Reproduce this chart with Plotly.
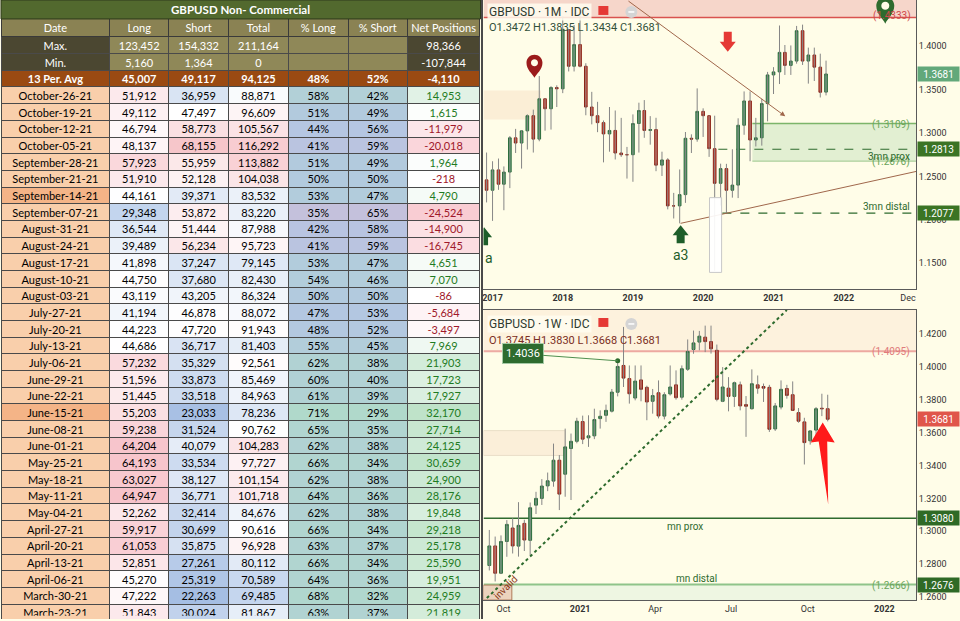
import pandas as pd
import plotly.graph_objects as go

# ---------------- COT table data ----------------
cot_dates = ["October-26-21", "October-19-21", "October-12-21", "October-05-21",
             "September-28-21", "September-21-21", "September-14-21", "September-07-21",
             "August-31-21", "August-24-21", "August-17-21", "August-10-21", "August-03-21",
             "July-27-21", "July-20-21", "July-13-21", "July-06-21",
             "June-29-21", "June-22-21", "June-15-21", "June-08-21", "June-01-21",
             "May-25-21", "May-18-21", "May-11-21", "May-04-21",
             "April-27-21", "April-20-21", "April-13-21", "April-06-21",
             "March-30-21", "March-23-21"]
cot_long = [51912, 49112, 46794, 48137, 57923, 51910, 44161, 29348, 36544, 39489, 41898,
            44750, 43119, 41194, 44223, 44686, 57232, 51596, 51445, 55203, 59238, 64204,
            64193, 63027, 64947, 52262, 59917, 61053, 52851, 45270, 47222, 51843]
cot_short = [36959, 47497, 58773, 68155, 55959, 52128, 39371, 53872, 51444, 56234, 37247,
             37680, 43205, 46878, 47720, 36717, 35329, 33873, 33518, 23033, 31524, 40079,
             33534, 38127, 36771, 32414, 30699, 35875, 27261, 25319, 22263, 30024]
cot_total = [88871, 96609, 105567, 116292, 113882, 104038, 83532, 83220, 87988, 95723, 79145,
             82430, 86324, 88072, 91943, 81403, 92561, 85469, 84963, 78236, 90762, 104283,
             97727, 101154, 101718, 84676, 90616, 96928, 80112, 70589, 69485, 81867]
cot_pct_long = [58, 51, 44, 41, 51, 50, 53, 35, 42, 41, 53, 54, 50, 47, 48, 55, 62, 60, 61,
                71, 65, 62, 66, 62, 64, 62, 66, 63, 66, 64, 68, 63]
cot_pct_short = [42, 49, 56, 59, 49, 50, 47, 65, 58, 59, 47, 46, 50, 53, 52, 45, 38, 40, 39,
                 29, 35, 38, 34, 38, 36, 38, 34, 37, 34, 36, 32, 37]
cot_net = [14953, 1615, -11979, -20018, 1964, -218, 4790, -24524, -14900, -16745, 4651, 7070,
           -86, -5684, -3497, 7969, 21903, 17723, 17927, 32170, 27714, 24125, 30659, 24900,
           28176, 19848, 29218, 25178, 25590, 19951, 24959, 21819]

stat_labels = ["Max.", "Min.", "13 Per. Avg"]
stat_long = [123452, 5160, 45007]
stat_short = [154332, 1364, 49117]
stat_total = [211164, 0, 94125]
stat_pct_long = [None, None, 48]
stat_pct_short = [None, None, 52]
stat_net = [98366, -107844, -4110]
headers = ["Date", "Long", "Short", "Total", "% Long", "% Short", "Net Positions"]
highlight_dates = ["September-14-21", "June-15-21"]

# ---------------- GBPUSD monthly (Dec 2016 - Oct 2021) ----------------
m_start = "2016-12-01"
m_open = [1.2460, 1.2340, 1.2575, 1.2410, 1.2550, 1.2945, 1.2885, 1.3025, 1.3200, 1.2930,
          1.3395, 1.3280, 1.3525, 1.3510, 1.4190, 1.3770, 1.4020, 1.3770, 1.3300, 1.3200,
          1.3120, 1.2990, 1.3030, 1.2770, 1.2750, 1.2750, 1.3110, 1.3260, 1.3030, 1.3040,
          1.2630, 1.2690, 1.2160, 1.2160, 1.2290, 1.2940, 1.2930, 1.3250, 1.3200, 1.2820,
          1.2420, 1.2590, 1.2340, 1.2400, 1.3090, 1.3370, 1.2920, 1.2945, 1.3340, 1.3670,
          1.3705, 1.3930, 1.3780, 1.3830, 1.4180, 1.3830, 1.3900, 1.3760, 1.3472]
m_high = [1.2775, 1.2675, 1.2706, 1.2615, 1.2965, 1.3048, 1.3030, 1.3215, 1.3270, 1.3657,
          1.3400, 1.3540, 1.3550, 1.4345, 1.4200, 1.4245, 1.4376, 1.3805, 1.3475, 1.3360,
          1.3145, 1.3300, 1.3260, 1.3175, 1.2840, 1.3215, 1.3350, 1.3380, 1.3195, 1.3176,
          1.2785, 1.2710, 1.2310, 1.2580, 1.3012, 1.2985, 1.3515, 1.3285, 1.3200, 1.3200,
          1.2647, 1.2645, 1.2813, 1.3170, 1.3480, 1.3480, 1.3175, 1.3395, 1.3705, 1.3760,
          1.4240, 1.4015, 1.4010, 1.4235, 1.4250, 1.3985, 1.3985, 1.3915, 1.3835]
m_low = [1.2200, 1.1987, 1.2345, 1.2110, 1.2365, 1.2770, 1.2590, 1.2810, 1.2775, 1.2905,
         1.3027, 1.3040, 1.3300, 1.3460, 1.3710, 1.3710, 1.3758, 1.3205, 1.3100, 1.3010,
         1.2662, 1.2785, 1.2695, 1.2725, 1.2475, 1.2438, 1.2775, 1.2945, 1.2866, 1.2560,
         1.2505, 1.2120, 1.2015, 1.1959, 1.2195, 1.2770, 1.2900, 1.2955, 1.2725, 1.1410,
         1.2165, 1.2075, 1.2255, 1.2250, 1.2980, 1.2675, 1.2845, 1.2855, 1.3135, 1.3450,
         1.3565, 1.3670, 1.3670, 1.3800, 1.3785, 1.3570, 1.3600, 1.3410, 1.3434]
m_close = [1.2340, 1.2575, 1.2410, 1.2550, 1.2945, 1.2885, 1.3025, 1.3200, 1.2930, 1.3395,
           1.3280, 1.3525, 1.3510, 1.4190, 1.3770, 1.4020, 1.3770, 1.3300, 1.3200, 1.3120,
           1.2990, 1.3030, 1.2770, 1.2750, 1.2750, 1.3110, 1.3260, 1.3030, 1.3040, 1.2630,
           1.2690, 1.2160, 1.2160, 1.2290, 1.2940, 1.2930, 1.3250, 1.3200, 1.2820, 1.2420,
           1.2590, 1.2340, 1.2400, 1.3090, 1.3370, 1.2920, 1.2945, 1.3340, 1.3670, 1.3705,
           1.3930, 1.3780, 1.3830, 1.4180, 1.3830, 1.3900, 1.3760, 1.3470, 1.3681]

# ---------------- GBPUSD weekly (Sep 14 2020 - Oct 25 2021) ----------------
w_start = "2020-09-14"
w_open = [1.2792, 1.2911, 1.2745, 1.2938, 1.3020, 1.2910, 1.3048, 1.2945, 1.3159, 1.3200,
          1.3276, 1.3305, 1.3432, 1.3347, 1.3503, 1.3547, 1.3667, 1.3568, 1.3580, 1.3685,
          1.3705, 1.3730, 1.3845, 1.4008, 1.3928, 1.3810, 1.3920, 1.3875, 1.3790, 1.3842,
          1.3700, 1.3835, 1.3890, 1.3815, 1.3985, 1.4105, 1.4150, 1.4180, 1.4153, 1.4100,
          1.3790, 1.3870, 1.3820, 1.3890, 1.3770, 1.3745, 1.3890, 1.3880, 1.3875, 1.3622,
          1.3755, 1.3868, 1.3830, 1.3721, 1.3665, 1.3550, 1.3615, 1.3748, 1.3745]
w_high = [1.3008, 1.2968, 1.2975, 1.3068, 1.3080, 1.3177, 1.3070, 1.3175, 1.3240, 1.3317,
          1.3357, 1.3533, 1.3463, 1.3624, 1.3594, 1.3690, 1.3703, 1.3705, 1.3745, 1.3735,
          1.3770, 1.3865, 1.4036, 1.4242, 1.4008, 1.4008, 1.4008, 1.3885, 1.3865, 1.3917,
          1.3845, 1.4008, 1.3978, 1.4008, 1.4166, 1.4220, 1.4218, 1.4250, 1.4250, 1.4135,
          1.3998, 1.3937, 1.3910, 1.3910, 1.3822, 1.3984, 1.3947, 1.3898, 1.3890, 1.3780,
          1.3917, 1.3890, 1.3911, 1.3749, 1.3690, 1.3614, 1.3755, 1.3836, 1.3830]
w_low = [1.2762, 1.2695, 1.2740, 1.2845, 1.2865, 1.2846, 1.2880, 1.2855, 1.3105, 1.3160,
         1.3244, 1.3271, 1.3129, 1.3210, 1.3190, 1.3535, 1.3530, 1.3513, 1.3560, 1.3624,
         1.3665, 1.3722, 1.3820, 1.3877, 1.3776, 1.3796, 1.3790, 1.3675, 1.3715, 1.3686,
         1.3680, 1.3825, 1.3800, 1.3800, 1.3975, 1.4079, 1.4100, 1.4089, 1.4080, 1.3790,
         1.3785, 1.3729, 1.3756, 1.3735, 1.3574, 1.3740, 1.3836, 1.3786, 1.3604, 1.3610,
         1.3741, 1.3806, 1.3735, 1.3660, 1.3406, 1.3527, 1.3564, 1.3700, 1.3668]
w_close = [1.2911, 1.2745, 1.2938, 1.3042, 1.2911, 1.3036, 1.2947, 1.3143, 1.3200, 1.3275,
           1.3307, 1.3432, 1.3226, 1.3513, 1.3547, 1.3669, 1.3560, 1.3580, 1.3679, 1.3699,
           1.3735, 1.3846, 1.4002, 1.3931, 1.3836, 1.3913, 1.3863, 1.3786, 1.3825, 1.3701,
           1.3830, 1.3877, 1.3812, 1.3988, 1.4093, 1.4145, 1.4186, 1.4153, 1.4109, 1.3802,
           1.3877, 1.3820, 1.3903, 1.3762, 1.3760, 1.3897, 1.3870, 1.3870, 1.3620, 1.3762,
           1.3863, 1.3826, 1.3735, 1.3669, 1.3539, 1.3610, 1.3745, 1.3745, 1.3681]

W, H = 960, 621
CREAM = "#fffde8"
AXIS = "#5a5a5a"
DKGREEN = "#2e6b2e"
NB = "\u00a0"  # keeps plotly tables from wrapping / growing rows
CLEAR = "rgba(0,0,0,0)"


def px(x):
    return x / W


def py(y):
    return 1 - y / H


def hex2rgb(c):
    c = c.lstrip("#")
    return [int(c[i:i + 2], 16) for i in (0, 2, 4)]


def mix(c1, c2, t):
    t = max(0.0, min(1.0, t))
    a, b = hex2rgb(c1), hex2rgb(c2)
    return "#%02x%02x%02x" % tuple(round(a[i] + (b[i] - a[i]) * t) for i in range(3))


def scale3(v, lo, mid, hi, c_lo, c_mid, c_hi):
    if v <= mid:
        return mix(c_lo, c_mid, (v - lo) / (mid - lo))
    return mix(c_mid, c_hi, (v - mid) / (hi - mid))


def fmt(v):
    return "" if v is None else f"{v:,}"


def pct(v):
    return "" if v is None else f"{v}%"


# ---------------- table cells ----------------
KHAKI, DARK, AVG = "#8f8858", "#4b4731", "#9a4a12"
n = len(cot_dates)

columns = [
    [s.replace(" ", NB) for s in stat_labels] + cot_dates,
    [fmt(v) for v in stat_long + cot_long],
    [fmt(v) for v in stat_short + cot_short],
    [fmt(v) for v in stat_total + cot_total],
    [pct(v) for v in stat_pct_long + cot_pct_long],
    [pct(v) for v in stat_pct_short + cot_pct_short],
    [fmt(v) for v in stat_net + cot_net],
]
# regular text everywhere except the average row, which goes in its own bold layer
plain_cols = [[s if i != 2 else "" for i, s in enumerate(col)] for col in columns]
bold_cols = [[s if i == 2 else "" for i, s in enumerate(col)] for col in columns]

fill_date = [DARK, DARK, AVG] + ["#f4b487" if d in highlight_dates else "#f9cfab" for d in cot_dates]
fill_long = [KHAKI, KHAKI, AVG] + [scale3(v, min(cot_long), 44500, max(cot_long),
                                          "#c3d5ee", "#ffffff", "#f7c3ca") for v in cot_long]
fill_short = [KHAKI, KHAKI, AVG] + [scale3(v, min(cot_short), 47500, max(cot_short),
                                            "#a5bee3", "#ffffff", "#f6c6ca") for v in cot_short]
fill_total = [KHAKI, KHAKI, AVG] + [scale3(v, min(cot_total), 91000, max(cot_total),
                                            "#c5d6ee", "#ffffff", "#f8ccd1") for v in cot_total]
pct_cols = [scale3(v, min(cot_pct_long), 45, max(cot_pct_long), "#c4c1dc", "#b3c6e3", "#b0d9cb")
            for v in cot_pct_long]
fill_pct = [KHAKI, KHAKI, AVG] + pct_cols
fill_net = [DARK, DARK, AVG] + [mix("#ffffff", "#bfe3c9", v / max(cot_net)) if v > 0
                                 else mix("#ffffff", "#f9cdd3", v / min(cot_net)) for v in cot_net]

font_base = ["white"] * 3 + ["black"] * n
font_net = ["white"] * 3 + ["#1e7b22" if v > 0 else "#a0182a" for v in cot_net]

COLW = [109, 59, 60, 60, 60, 59, 73]
ROW_H, HEAD_H, TXT_UP = 16.68, 18, 3.2
TXT_DOMAIN = dict(x=[0, px(480)], y=[TXT_UP / H, py(19 - TXT_UP)])

# table 1: cell backgrounds and grid
table_bg = go.Table(
    domain=dict(x=[0, px(480)], y=[0, py(19)]),
    columnwidth=COLW,
    header=dict(values=[""] * 7, fill_color="#8a8253", line=dict(color="#3a3a3a", width=1),
                height=HEAD_H),
    cells=dict(values=[[""] * (n + 3)] * 7,
               fill_color=[fill_date, fill_long, fill_short, fill_total, fill_pct, fill_pct, fill_net],
               line=dict(color="#4a4a4a", width=1), height=ROW_H),
)


# tables 2 and 3: text only, lifted a little so it sits centred in the rows
def text_table(cols, head, weight):
    return go.Table(
        domain=TXT_DOMAIN, columnwidth=COLW,
        header=dict(values=head, fill_color=CLEAR, line=dict(color=CLEAR, width=0),
                    font=dict(family="Lato", size=11, color="white"), align="center", height=HEAD_H),
        cells=dict(values=cols, fill_color=CLEAR,
                   font=dict(family="Lato", size=11, color=[font_base] * 6 + [font_net],
                             weight=weight),
                   line=dict(color=CLEAR, width=0), align="center", height=ROW_H),
    )


table_txt = text_table(plain_cols, [h.replace(" ", NB) for h in headers], "normal")
table_bold = text_table(bold_cols, [""] * 7, "bold")


# ---------------- candles ----------------
def candle_traces(dates, o, h, l, c, xa, ya):
    wx, wy = [], []
    for d, lo, hi in zip(dates, l, h):
        wx += [d, d, None]
        wy += [lo, hi, None]
    wick = go.Scatter(x=wx, y=wy, mode="lines", line=dict(color="#858585", width=1),
                      xaxis=xa, yaxis=ya, hoverinfo="skip", showlegend=False)
    body = go.Candlestick(
        x=dates, open=o, close=c,
        high=[max(a, b) for a, b in zip(o, c)], low=[min(a, b) for a, b in zip(o, c)],
        increasing=dict(line=dict(color="#2b6b3c", width=1), fillcolor="#4f9d68"),
        decreasing=dict(line=dict(color="#8b2418", width=1), fillcolor="#e8432f"),
        whiskerwidth=0, xaxis=xa, yaxis=ya, showlegend=False, hoverinfo="skip")
    return [wick, body]


m_dates = pd.date_range(m_start, periods=len(m_open), freq="MS")
w_dates = pd.date_range(w_start, periods=len(w_open), freq="7D")

fig = go.Figure()
fig.add_trace(table_bg)
fig.add_trace(table_txt)
fig.add_trace(table_bold)
for t in candle_traces(m_dates, m_open, m_high, m_low, m_close, "x", "y"):
    fig.add_trace(t)
for t in candle_traces(w_dates, w_open, w_high, w_low, w_close, "x2", "y2"):
    fig.add_trace(t)
fig.add_trace(go.Scatter(x=["2021-02-15"], y=[1.4036], mode="markers",
                         marker=dict(size=5, color=DKGREEN), xaxis="x2", yaxis="y2",
                         hoverinfo="skip", showlegend=False))

X1 = ["2016-11-15", "2023-01-12"]
X2 = ["2020-09-07", "2022-02-08"]

shapes = []


def rect(xr, yr, x0, x1, y0, y1, fill, line=None, lw=0, layer="below"):
    shapes.append(dict(type="rect", xref=xr, yref=yr, x0=x0, x1=x1, y0=y0, y1=y1,
                       fillcolor=fill, line=dict(color=line or fill, width=lw), layer=layer))


def hline(xr, yr, x0, x1, y, color, width=1, dash="solid"):
    shapes.append(dict(type="line", xref=xr, yref=yr, x0=x0, x1=x1, y0=y, y1=y,
                       line=dict(color=color, width=width, dash=dash), layer="below"))


def icon(xr, yr, xa, ya, path, fill):
    shapes.append(dict(type="path", xref=xr, yref=yr, xsizemode="pixel", ysizemode="pixel",
                       xanchor=xa, yanchor=ya, path=path, fillcolor=fill,
                       line=dict(width=0), layer="above"))


PIN = "M0,0 C-2,4 -8,8 -8,15 C-8,19.5 -4.4,23 0,23 C4.4,23 8,19.5 8,15 C8,8 2,4 0,0 Z"
PIN_HOLE = ("M-3.5,15 C-3.5,17 -1.9,18.5 0,18.5 C1.9,18.5 3.5,17 3.5,15 "
            "C3.5,13 1.9,11.5 0,11.5 C-1.9,11.5 -3.5,13 -3.5,15 Z")
GPIN = "M0,0 C-2,5 -9,10 -9,18 C-9,23 -5,27 0,27 C5,27 9,23 9,18 C9,10 2,5 0,0 Z"
GPIN_HOLE = "M-4,18 C-4,20.5 -2,22 0,22 C2,22 4,20.5 4,18 C4,15.5 2,14 0,14 C-2,14 -4,15.5 -4,18 Z"
DOWN_ARROW = "M0,0 L-8,10 L-4,10 L-4,20 L4,20 L4,10 L8,10 Z"
UP_ARROW = "M0,0 L-8,-10 L-4,-10 L-4,-18 L4,-18 L4,-10 L8,-10 Z"
BIG_ARROW = "M0,0 L12,-20 L4.5,-19 L5.5,-82 L-4,-19 L-12,-20 Z"

# monthly chart drawings
rect("x", "y", X1[0], X1[1], 1.4333, 1.4534, "#f6d6ca")
hline("x", "y", X1[0], X1[1], 1.4333, "#d9534f", 1.5)
rect("x", "y", X1[0], "2017-09-10", 1.3155, 1.3490, "#fbeed6")
rect("x", "y", "2020-09-13", X1[1], 1.2676, 1.3109, "#e2efd2")
hline("x", "y", "2020-09-13", X1[1], 1.3109, "#7cb56a", 1.5)
hline("x", "y", "2020-09-13", X1[1], 1.2676, "#9cc78c", 1)
hline("x", "y", "2020-03-20", X1[1], 1.2813, DKGREEN, 1.2, "dash")
hline("x", "y", "2020-04-10", X1[1], 1.2077, DKGREEN, 1.2, "dash")
shapes.append(dict(type="line", xref="x", yref="y", x0="2019-09-06", y0=1.1959,
                   x1=X1[1], y1=1.2557, line=dict(color="#a0674b", width=1)))
rect("x", "y", "2020-02-03", "2020-04-06", 1.1393, 1.2255, "rgba(255,255,255,0.92)",
     "#c8c8c8", 1, "above")
icon("x", "y", "2017-08-07", 1.3638, PIN, "#9b1b1b")
icon("x", "y", "2017-08-07", 1.3638, PIN_HOLE, CREAM)
icon("x", "y", "2022-08-05", 1.4259, GPIN, "#2e6b2e")
icon("x", "y", "2022-08-05", 1.4259, GPIN_HOLE, CREAM)
icon("x", "y", "2020-05-08", 1.3937, DOWN_ARROW, "#e53935")
icon("x", "y", "2019-09-06", 1.1937, UP_ARROW, "#1e5e2a")
icon("x", "y", "2016-11-18", 1.1914, UP_ARROW, "#1e5e2a")

# weekly chart drawings
rect("x2", "y2", X2[0], X2[1], 1.4095, 1.4345, "rgba(250,222,200,0.35)")
hline("x2", "y2", X2[0], X2[1], 1.4095, "#eda9a0", 2)
rect("x2", "y2", X2[0], "2020-12-14", 1.3461, 1.3612, "#fbefd9", "#eadfc8", 1)
hline("x2", "y2", X2[0], X2[1], 1.3080, DKGREEN, 1.5)
rect("x2", "y2", X2[0], X2[1], 1.2582, 1.2676, "#eef6e2")
hline("x2", "y2", X2[0], X2[1], 1.2676, "#8fc48a", 2)
rect("x2", "y2", X2[0], "2020-10-11", 1.2582, 1.2673, "#ecd3bd", "#b07a5a", 1)
shapes.append(dict(type="line", xref="x2", yref="y2", x0="2020-09-11", y0=1.2594,
                   x1="2021-09-06", y1=1.4345, line=dict(color=DKGREEN, width=2, dash="dot")))
icon("x2", "y2", "2021-10-19", 1.3661, BIG_ARROW, "#ff1a1a")

# frame pieces and legend icons
shapes.append(dict(type="line", xref="paper", yref="paper", x0=px(481.5), x1=px(481.5),
                   y0=0, y1=1, line=dict(color="#4a4a4a", width=2)))
shapes.append(dict(type="rect", xref="paper", yref="paper", x0=0, x1=px(480), y0=py(19), y1=1,
                   fillcolor="#52692e", line=dict(color="#2f3a1c", width=1)))
for dy in (0, 313):
    rect("paper", "paper", px(598), px(608), py(6 + dy), py(15 + dy), "#e53935", layer="above")
    shapes.append(dict(type="circle", xref="paper", yref="paper", x0=px(625), x1=px(637),
                       y0=py(6 + dy), y1=py(18 + dy), fillcolor="#d4d4d4",
                       line=dict(width=0), layer="above"))
    shapes.append(dict(type="line", xref="paper", yref="paper", x0=px(628), x1=px(634),
                       y0=py(12 + dy), y1=py(12 + dy), line=dict(color="white", width=1.5),
                       layer="above"))

ann = []


def text(x, y, s, color, size=10, xanchor="left", **kw):
    ann.append(dict(xref="paper", yref="paper", x=px(x), y=py(y), text=s, showarrow=False,
                    xanchor=xanchor, yanchor="middle", font=dict(family="Roboto", size=size, color=color),
                    **kw))


def price_tag(y, yref, s, bg):
    ann.append(dict(xref="paper", yref=yref, x=px(917), y=y, text=s, showarrow=False,
                    xanchor="left", yanchor="middle", width=41, height=14, bgcolor=bg,
                    font=dict(family="Roboto", size=10, color="white"), borderpad=0))


ann.append(dict(xref="paper", yref="paper", x=px(240), y=py(9.5), text="<b>GBPUSD Non- Commercial</b>",
                showarrow=False, xanchor="center", yanchor="middle",
                font=dict(family="Lato", size=11.5, color="white")))

text(487, 12, "GBPUSD · 1M · IDC", "#2f3b30", 12, bgcolor="rgba(255,253,240,0.85)")
text(487, 28, "O1.3472 H1.3835 L1.3434 C1.3681", "#31503a", 11)
text(913, 16, "(1.4333)", "#cf4a4a", 10, "right")
text(912, 125, "(1.3109)", "#6aa55a", 10, "right")
text(912, 163, "(1.2676)", "#6aa55a", 10, "right")
text(912, 157, "3mn prox", DKGREEN, 10, "right")
text(912, 207, "3mn distal", DKGREEN, 10, "right")
text(680, 256, "a3", "#1e5e2a", 14, "center")
text(489, 259, "a", "#1e5e2a", 14, "center")

text(487, 325, "GBPUSD · 1W · IDC", "#2f3b30", 12, bgcolor="rgba(255,253,240,0.85)")
text(487, 342, "O1.3745 H1.3830 L1.3668 C1.3681", "#7a2e24", 11)
text(912, 353, "(1.4095)", "#e07b7b", 10, "right")
text(685, 528, "mn prox", DKGREEN, 10, "center")
text(696, 580, "mn distal", DKGREEN, 10, "center")
text(912, 588, "(1.2666)", "#6aa55a", 10, "right")
text(505, 589, "invalid", "#8b3a1a", 10, "center", textangle=-45)

ann.append(dict(xref="x", yref="y", x="2021-03-03", y=1.3193, ax="2018-12-01", ay=1.4534,
                axref="x", ayref="y", text="", showarrow=True, arrowhead=2, arrowsize=1,
                arrowwidth=1, arrowcolor="#a0674b"))
ann.append(dict(xref="x2", yref="y2", x="2021-02-15", y=1.4036, ax=-95, ay=-7, text="1.4036",
                showarrow=True, arrowhead=0, arrowwidth=1, arrowcolor="#4f8f4f", standoff=0,
                bgcolor=DKGREEN, bordercolor="#a5c9a5", borderwidth=1, borderpad=3,
                font=dict(family="Roboto", size=11, color="white")))

price_tag(1.3681, "y", "1.3681", "#62a87a")
price_tag(1.2813, "y", "1.2813", "#3b7424")
price_tag(1.2077, "y", "1.2077", "#3b7424")
price_tag(1.3681, "y2", "1.3681", "#e0564a")
price_tag(1.3080, "y2", "1.3080", "#2f6a26")
price_tag(1.2676, "y2", "1.2676", "#2f6a26")

tickfont = dict(family="Roboto", size=9, color="#333333")
fig.update_layout(
    width=W, height=H, margin=dict(l=0, r=0, t=0, b=0),
    paper_bgcolor=CREAM, plot_bgcolor=CREAM, showlegend=False, hovermode=False,
    font=dict(family="Roboto", size=10, color="#333333"),
    shapes=shapes, annotations=ann,
    xaxis=dict(domain=[px(483), px(916)], type="date", range=X1, anchor="y",
               tickvals=["2017-01-01", "2018-01-01", "2019-01-01", "2020-01-01",
                         "2021-01-01", "2022-01-01", "2022-12-01"],
               ticktext=["<b>2017</b>", "<b>2018</b>", "<b>2019</b>", "<b>2020</b>",
                         "<b>2021</b>", "<b>2022</b>", "Dec"],
               showgrid=False, zeroline=False, showline=True, linecolor=AXIS,
               ticks="", tickfont=tickfont, rangeslider=dict(visible=False), fixedrange=True),
    yaxis=dict(domain=[py(290), 1], range=[1.1201, 1.4534], anchor="x", side="right",
               tickvals=[1.15, 1.20, 1.25, 1.30, 1.35, 1.40, 1.45], tickformat=".4f",
               showgrid=False, zeroline=False, showline=True, linecolor=AXIS,
               ticks="", tickfont=tickfont, fixedrange=True),
    xaxis2=dict(domain=[px(483), px(916)], type="date", range=X2, anchor="y2",
                tickvals=["2020-10-01", "2021-01-01", "2021-04-01", "2021-07-01",
                          "2021-10-01", "2022-01-01"],
                ticktext=["Oct", "<b>2021</b>", "Apr", "Jul", "Oct", "<b>2022</b>"],
                showgrid=False, zeroline=False, showline=True, mirror=True, linecolor=AXIS,
                ticks="", tickfont=tickfont, rangeslider=dict(visible=False), fixedrange=True),
    yaxis2=dict(domain=[py(602), py(311)], range=[1.2582, 1.4345], anchor="x2", side="right",
                tickvals=[1.26, 1.28, 1.30, 1.32, 1.34, 1.36, 1.38, 1.40, 1.42], tickformat=".4f",
                showgrid=False, zeroline=False, showline=True, linecolor=AXIS,
                ticks="", tickfont=tickfont, fixedrange=True),
)

fig.write_html("out.html", config={"displayModeBar": False},
               post_script="document.body.style.margin='0';")
